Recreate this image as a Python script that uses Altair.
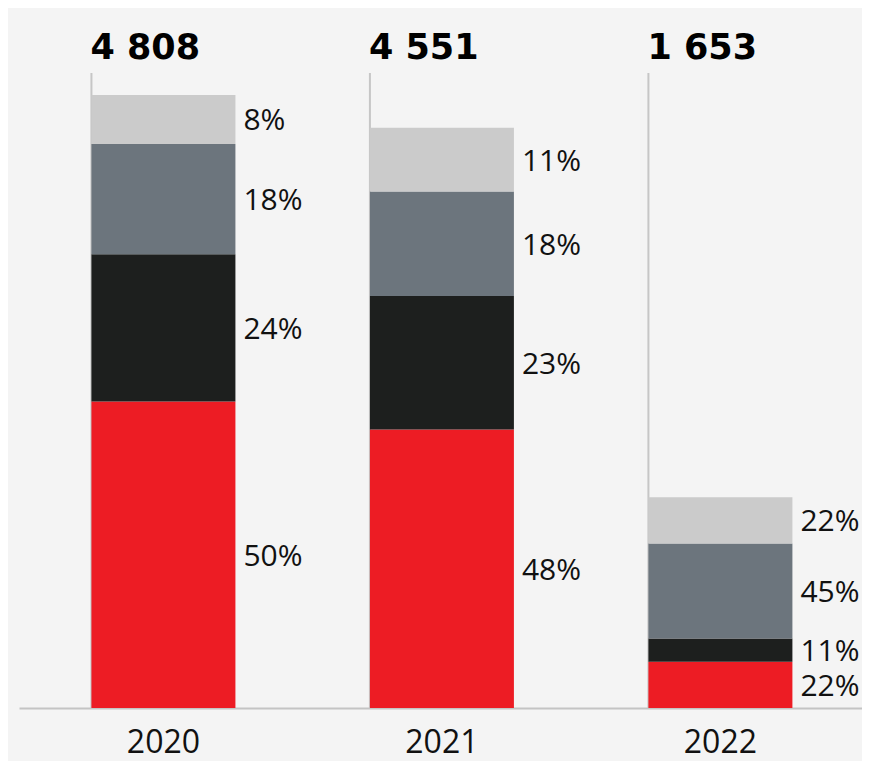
import altair as alt
import pandas as pd

# ---- data ----
years = ["2020", "2021", "2022"]
totals = [4808, 4551, 1653]
total_labels = ["4 808", "4 551", "1 653"]
segments = ["s1", "s2", "s3", "s4"]  # stacked bottom -> top
seg_colors = ["#ed1c24", "#1d1f1e", "#6c757d", "#cbcbcb"]
pct_2020 = [50, 24, 18, 8]
pct_2021 = [48, 23, 18, 11]
pct_2022 = [22, 11, 45, 22]

rows = []
for yr, tot, pcts in zip(years, totals, [pct_2020, pct_2021, pct_2022]):
    for i, (s, p) in enumerate(zip(segments, pcts)):
        rows.append({"year": yr, "seg": s, "order": i, "value": tot * p / 100.0, "label": f"{p}%"})
df = pd.DataFrame(rows)
tot_df = pd.DataFrame({"year": years, "total": totals, "label": total_labels})

FONT = "Open Sans"
YMAX = 4980

xscale = alt.Scale(domain=years, paddingInner=0.483, paddingOuter=0.255, align=0.51, round=False)
yscale = alt.Scale(domain=[0, YMAX], nice=False, zero=True)
xaxis = alt.Axis(
    title=None, labelFont=FONT, labelFontSize=32, labelColor="#111111",
    labelAngle=0, ticks=False, tickSize=0, labelPadding=19,
    domainColor="#c4c4c4", domainWidth=2, grid=False)

stacked = alt.Chart(df).transform_stack(
    stack="value", groupby=["year"], as_=["y0", "y1"],
    sort=[alt.SortField(field="order", order="ascending")]
).transform_calculate(mid="(datum.y0 + datum.y1) / 2")

tops = alt.Chart(tot_df).transform_calculate(lo="0", hi=str(YMAX))

rules = tops.mark_rule(color="#c6c6c6", strokeWidth=2).encode(
    x=alt.X("year:N", bandPosition=0, scale=xscale, axis=xaxis),
    y=alt.Y("lo:Q", scale=yscale, axis=None),
    y2="hi:Q",
)

bars = stacked.mark_bar().encode(
    x=alt.X("year:N", scale=xscale, axis=xaxis),
    y=alt.Y("y0:Q", scale=yscale, axis=None),
    y2="y1:Q",
    color=alt.Color("seg:N", scale=alt.Scale(domain=segments, range=seg_colors), legend=None),
)

pct_text = stacked.mark_text(
    align="left", baseline="middle", dx=8, dy=2, font=FONT, fontSize=30, color="#111111"
).encode(
    x=alt.X("year:N", bandPosition=1, scale=xscale, axis=xaxis),
    y=alt.Y("mid:Q", scale=yscale, axis=None),
    text="label:N",
)

tot_text = tops.mark_text(
    align="left", baseline="alphabetic", dx=-1, dy=-14, font="DejaVu Sans",
    fontWeight="bold", fontSize=35, color="#000000"
).encode(
    x=alt.X("year:N", bandPosition=0, scale=xscale, axis=xaxis),
    y=alt.Y("hi:Q", scale=yscale, axis=None),
    text="label:N",
)

chart = alt.layer(rules, bars, pct_text, tot_text).properties(
    width=843, height=635,
    padding={"left": 11, "top": 65, "right": 0, "bottom": 53},
    autosize=alt.AutoSizeParams(type="none"),
    background="#f4f4f4",
).configure_view(stroke=None)

chart.save("out.html", embed_options={"renderer": "svg", "actions": False})
